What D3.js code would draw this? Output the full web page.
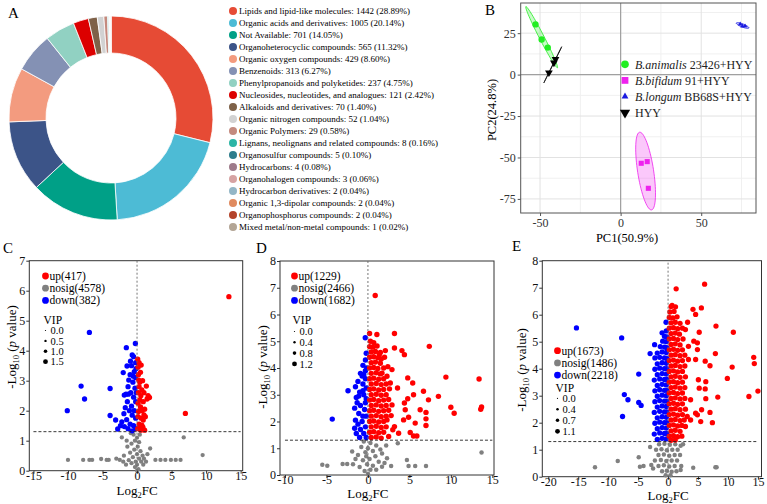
<!DOCTYPE html>
<html>
<head>
<meta charset="utf-8">
<script src="https://cdn.jsdelivr.net/npm/d3@7"></script>
<style>
  body { margin: 0; background: #fff; }
  svg { display: block; font-family: "Liberation Serif", "Times New Roman", serif; }
</style>
</head>
<body>
<div id="chart"></div>
<script>
// ---- panel A : compound classes ----
const classNames = ["Lipids and lipid-like molecules", "Organic acids and derivatives", "Not Available",
  "Organoheterocyclic compounds", "Organic oxygen compounds", "Benzenoids", "Phenylpropanoids and polyketides",
  "Nucleosides, nucleotides, and analogues", "Alkaloids and derivatives", "Organic nitrogen compounds",
  "Organic Polymers", "Lignans, neolignans and related compounds", "Organosulfur compounds", "Hydrocarbons",
  "Organohalogen compounds", "Hydrocarbon derivatives", "Organic 1,3-dipolar compounds",
  "Organophosphorus compounds", "Mixed metal/non-metal compounds"];
const classCounts = [1442, 1005, 701, 565, 429, 313, 237, 121, 70, 52, 29, 8, 5, 4, 3, 2, 2, 2, 1];
const classPct = ["28.89", "20.14", "14.05", "11.32", "8.60", "6.27", "4.75", "2.42", "1.40", "1.04",
  "0.58", "0.16", "0.10", "0.08", "0.06", "0.04", "0.04", "0.04", "0.02"];
const classColors = ["#E64B35", "#4DBBD5", "#00A087", "#3C5488", "#F39B7F", "#8491B4", "#91D1C2", "#DC0000",
  "#7E6148", "#D2D2D2", "#C48A7E", "#2CB5A5", "#2E7D8C", "#9E7B8B", "#D6A3A3", "#93B6C6", "#E08A5E",
  "#B4432A", "#B3A595"];

// ---- panel B : PCA ----
const pcaSpecies = ["B.animalis", "B.bifidum", "B.longum", ""];
const pcaStrain = ["23426+HYY", "91+HYY", "BB68S+HYY", "HYY"];
const pcaAnimalis = [[-52.8, 30.3], [-49, 21.2], [-45.2, 16.3]];
const pcaBifidum = [[12.8, -53.5], [16.5, -52.5], [17.2, -68.6]];
const pcaLongum = [[74.2, 30.4], [75.6, 29.2], [77.2, 29.3]];
const pcaHyy = [[-40.4, 9.3], [-41.4, 7.2], [-44.5, 1.2]];
const pcaXTicks = [-50, 0, 50];
const pcaYTicks = [-75, -50, -25, 0, 25];

// ---- panels C/D/E : volcano plots, points are [log2FC, -log10 p] ----
const pThreshold = 0.05;
const cCounts = [417, 4578, 382];
const cVipTicks = [0.0, 0.5, 1.0, 1.5];
const cXTicks = [-15, -10, -5, 0, 5, 10, 15];
const cYTicks = [0, 1, 2, 3, 4, 5, 6, 7];
const cUp = [[13.3,5.8],[7.0,1.91],[1.35,2.82],[1.8,2.44],[1.45,2.39],[1.6,2.5],[1.2,1.8],[1.1,2.05],[1.0,2.6],
  [0.1,3.72],[0.6,3.52],[0.3,3.6],[0.15,3.45],[0.5,3.28],[0.2,3.2],[0.25,3.02],[0.8,3.0],[0.4,2.95],[0.3,2.8],
  [0.7,2.69],[0.2,2.6],[0.55,2.5],[0.4,2.36],[0.9,2.3],[0.15,2.25],[0.5,2.13],[0.35,2.0],[0.75,2.0],[0.2,1.97],
  [1.0,1.86],[0.15,1.8],[0.6,1.75],[0.9,1.69],[0.3,1.55],[0.7,1.52],[0.85,1.45],[0.4,1.41],[0.1,1.4],[0.55,1.35],[1.1,1.35]];
const cDown = [[-6.9,4.61],[-0.24,4.24],[-1.55,4.1],[-0.7,3.86],[-1.45,3.49],[-2.0,3.27],[-8.1,2.82],[-3.9,2.74],
  [-7.6,2.39],[-10.1,2.0],[-3.9,1.84],[-3.1,1.69],[-2.8,1.39],[-2.2,1.63],[-1.85,2.52],[-1.2,3.02],[-1.84,1.47],
  [-0.5,3.8],[-0.95,3.65],[-0.2,3.6],[-0.8,3.5],[-0.15,3.4],[-0.4,3.3],[-1.0,3.2],[-0.55,3.15],[-0.2,3.1],
  [-0.6,2.95],[-1.3,2.8],[-0.3,2.75],[-0.1,2.6],[-0.9,2.6],[-1.25,2.55],[-1.6,2.55],[-0.5,2.45],[-1.4,2.3],
  [-0.2,2.3],[-0.8,2.15],[-1.7,2.1],[-1.1,2.0],[-0.4,2.0],[-0.7,1.85],[-0.2,1.75],[-1.5,1.7],[-1.0,1.55],
  [-0.5,1.5],[-1.3,1.4],[-0.2,1.4],[-0.7,1.33],[-2.4,1.5],[-1.9,1.9]];
const cNosig = [[6.76,1.11],[9.5,0.52],[-10,0.36],[-7.8,0.36],[-6.9,0.36],[-6.5,0.36],[-5.2,0.39],[-4.4,0.36],
  [-4.1,0.36],[-2.5,0.36],[-2.2,1.11],[2.66,0.36],[3.4,0.36],[4.1,0.36],[4.9,0.36],[5.6,0.36],[6.3,0.36],
  [1.9,0.74],[1.5,0.55],[-1.5,1.0],[-1.4,0.8],[-1.9,0.5],[-3.0,0.4],[-2.0,0.3],
  [-0.5,1.2],[0.4,1.2],[-0.9,1.25],[0,1.1],[-0.3,1.0],[0.3,0.95],[-0.8,0.9],[0.1,0.8],[-0.4,0.7],[0.5,0.65],
  [-1.0,0.6],[0,0.55],[0.8,0.5],[-0.6,0.45],[0.3,0.4],[1.0,0.4],[-1.2,0.35],[-0.2,0.3],[0.6,0.3],[1.3,0.3],
  [-0.8,0.25],[0,0.2],[0.9,0.2],[-1.6,0.2],[-0.3,0.12],[0.2,0.05],[0,0]];

const dCounts = [1229, 2466, 1682];
const dVipTicks = [0.0, 0.4, 0.8, 1.2];
const dXTicks = [-10, -5, 0, 5, 10, 15];
const dYTicks = [0, 1, 2, 3, 4, 5, 6, 7, 8];
const dUp = [[0.88,6.71],[0.2,5.29],[1.08,5.25],[3.2,5.29],[7.4,4.81],[4.1,4.65],[4.4,4.5],[2.1,4.65],[3.2,4.75],
  [1.37,4.5],[1.6,4.34],[4.8,3.63],[5.4,3.44],[9.4,3.66],[13.4,3.59],[3.57,3.25],[6.7,3.13],[5.5,3.0],[4.8,2.85],
  [7.3,2.81],[8.5,2.94],[4.4,2.69],[6.3,2.44],[4.5,2.44],[10,2.53],[10.4,2.31],[13.7,2.54],[13.6,2.46],[7.0,2.34],
  [4.9,2.16],[4.3,2.06],[5.7,1.94],[7.0,1.85],[7.0,2.1],[5.1,1.59],[5.5,1.46],[5.9,1.46],[3.7,1.56],[3.2,1.81],
  [3.0,1.69],[2.5,1.44],[2.3,2.06],[1.7,3.81],[2.3,3.69],[2.7,3.44],[2.9,3.94],
  [0.3,5.0],[0.7,4.95],[0.2,4.8],[0.6,4.78],[1.1,4.82],[0.4,4.6],[0.9,4.62],[1.5,4.58],[0.2,4.4],[0.7,4.42],
  [1.2,4.38],[2.0,4.4],[0.4,4.2],[0.9,4.22],[1.5,4.18],[0.2,4.0],[0.7,4.02],[1.2,3.98],[1.9,4.0],[2.4,4.05],
  [0.4,3.8],[1.0,3.82],[1.5,3.78],[0.2,3.6],[0.7,3.62],[1.3,3.58],[1.9,3.6],[0.4,3.4],[1.0,3.42],[1.6,3.38],
  [2.2,3.4],[0.2,3.2],[0.7,3.22],[1.3,3.18],[1.9,3.2],[2.6,3.22],[0.4,3.0],[1.0,3.02],[1.6,2.98],[2.2,3.0],
  [0.2,2.8],[0.7,2.82],[1.3,2.78],[1.9,2.8],[2.5,2.82],[0.4,2.6],[1.0,2.62],[1.6,2.58],[2.2,2.6],[2.9,2.62],
  [0.2,2.4],[0.7,2.42],[1.3,2.38],[1.9,2.4],[2.5,2.42],[0.4,2.2],[1.0,2.22],[1.6,2.18],[2.2,2.2],[2.8,2.22],
  [0.2,2.0],[0.7,2.02],[1.3,1.98],[1.9,2.0],[0.4,1.8],[1.0,1.82],[1.6,1.78],[2.2,1.8],[0.2,1.6],[0.7,1.62],
  [1.3,1.58],[1.9,1.6],[0.4,1.4],[1.0,1.42],[1.6,1.38]];
const dDown = [[-0.32,5.13],[-2.4,3.15],[-4.3,2.09],[-0.2,4.55],[-0.3,4.3],[-0.6,4.1],[-0.15,4.0],[-0.3,3.9],
  [-0.9,3.8],[-0.7,3.7],[-0.3,3.6],[-1.2,3.5],[-0.6,3.4],[-1.5,3.3],[-0.2,3.25],[-1.0,3.1],[-0.5,3.0],[-1.4,2.9],
  [-0.2,2.85],[-1.3,2.7],[-0.3,2.7],[-0.9,2.6],[-1.6,2.5],[-0.4,2.45],[-1.1,2.3],[-0.2,2.2],[-1.5,2.05],
  [-0.7,2.0],[-1.2,1.9],[-0.3,1.8],[-1.6,1.75],[-0.9,1.7],[-1.4,1.55],[-0.5,1.55],[-0.2,1.4],[-1.0,1.4],
  [-0.6,3.15],[-0.6,2.2],[-1.1,2.95],[-0.5,3.75]];
const dNosig = [[3.6,1.19],[13.7,0.84],[4.7,0.56],[4.9,0.34],[5.7,0.34],[7.0,0.34],[2.8,0.34],[2.3,0.63],
  [-1.9,0.88],[-5.5,0.38],[-4.9,0.35],[-3.05,0.41],[-2.5,0.41],[1.7,0.31],[-1.5,0.6],
  [-0.5,1.25],[0.3,1.2],[1.0,1.1],[-0.8,1.05],[0,1.0],[0.6,0.9],[1.5,0.95],[-0.3,0.85],[-1.2,0.75],[0.9,0.7],
  [0.2,0.6],[-0.6,0.55],[1.3,0.5],[-0.1,0.4],[0.6,0.35],[-1.0,0.3],[2.0,0.45],[0.3,0.2],[-0.4,0.15],[0,0.05],
  [1.0,0.2],[-1.8,0.4],[2.2,1.1],[1.7,0.8],[-0.2,0.7]];

const eCounts = [1673, 1486, 2218];
const eVipTicks = [0.0, 0.4, 0.7, 1.1];
const eXTicks = [-20, -15, -10, -5, 0, 5, 10, 15];
const eYTicks = [0, 1, 2, 3, 4, 5, 6, 7, 8];
const eUp = [[1.35,6.96],[6.1,7.13],[0.67,6.34],[1.24,6.29],[4.16,6.2],[5.56,6.25],[4.6,6.01],[8.0,5.58],
  [10.9,5.35],[5.2,5.35],[3.26,5.72],[2.9,5.45],[4.3,5.02],[4.9,4.96],[3.4,4.83],[4.9,4.71],[3.4,4.34],[4.6,4.34],
  [6.2,4.28],[7.9,4.56],[7.0,4.11],[10.7,4.06],[14.3,4.42],[14.4,4.19],[9.9,3.64],[5.06,3.59],[6.3,3.52],
  [5.2,3.28],[6.2,3.25],[6.3,2.89],[8.3,2.95],[13.5,2.97],[15.0,3.17],[3.76,2.85],[5.6,2.48],[4.6,2.35],
  [4.9,2.29],[7.0,2.38],[7.4,2.0],[5.45,2.04],[3.2,2.23],[3.76,2.1],[2.9,1.86],
  [0.5,6.3],[0.3,6.1],[1.0,6.12],[0.2,5.9],[0.8,5.88],[1.5,5.92],[0.5,5.7],[1.2,5.72],[2.0,5.68],
  [0.2,5.5],[0.9,5.52],[1.6,5.48],[2.4,5.5],[0.5,5.3],[1.2,5.32],[1.9,5.28],[0.2,5.1],[0.9,5.12],[1.6,5.08],
  [2.5,5.1],[0.5,4.9],[1.2,4.92],[2.0,4.88],[0.2,4.7],[0.9,4.72],[1.6,4.68],[2.4,4.7],[0.5,4.5],[1.2,4.52],
  [2.0,4.48],[2.8,4.5],[0.2,4.3],[0.9,4.32],[1.6,4.28],[2.4,4.3],[0.5,4.1],[1.2,4.12],[2.0,4.08],[2.8,4.1],
  [0.2,3.9],[0.9,3.92],[1.6,3.88],[2.4,3.9],[0.5,3.7],[1.2,3.72],[2.0,3.68],[2.9,3.7],[0.2,3.5],[0.9,3.52],
  [1.6,3.48],[2.4,3.5],[0.5,3.3],[1.2,3.32],[2.0,3.28],[2.8,3.3],[0.2,3.1],[0.9,3.12],[1.6,3.08],[2.4,3.1],
  [0.5,2.9],[1.2,2.92],[2.0,2.88],[2.8,2.9],[0.2,2.7],[0.9,2.72],[1.6,2.68],[2.4,2.7],[0.5,2.5],[1.2,2.52],
  [2.0,2.48],[2.9,2.5],[0.2,2.3],[0.9,2.32],[1.6,2.28],[2.4,2.3],[0.5,2.1],[1.2,2.12],[2.0,2.08],[2.7,2.1],
  [0.2,1.9],[0.9,1.92],[1.6,1.88],[2.3,1.9],[0.5,1.7],[1.2,1.72],[2.0,1.68],[0.2,1.5],[0.9,1.52],[1.6,1.48],
  [2.3,1.5],[0.5,1.35],[1.2,1.36]];
const eDown = [[-15.3,5.51],[-7.75,5.14],[-3,4.56],[-2.25,4.89],[-1.0,5.33],[-0.34,5.72],[-4.9,3.8],[-7.3,3.04],
  [-6.7,2.85],[-4.9,2.75],[-4.5,2.64],[-7.6,2.23],
  [-0.3,5.4],[-0.6,5.2],[-0.2,5.18],[-0.3,5.0],[-0.9,5.02],[-0.6,4.8],[-1.3,4.82],[-0.2,4.78],[-0.3,4.6],
  [-1.0,4.62],[-1.8,4.58],[-0.6,4.4],[-1.4,4.42],[-0.2,4.38],[-2.2,4.4],[-0.3,4.2],[-1.0,4.22],[-1.8,4.18],
  [-0.6,4.0],[-1.4,4.02],[-2.2,3.98],[-0.2,4.0],[-0.3,3.8],[-1.0,3.82],[-1.8,3.78],[-0.6,3.6],[-1.4,3.62],
  [-2.3,3.58],[-0.2,3.6],[-0.3,3.4],[-1.0,3.42],[-1.8,3.38],[-0.6,3.2],[-1.4,3.22],[-2.2,3.18],[-0.2,3.2],
  [-0.3,3.0],[-1.0,3.02],[-1.8,2.98],[-0.6,2.8],[-1.4,2.82],[-2.2,2.78],[-0.2,2.8],[-0.3,2.6],[-1.0,2.62],
  [-1.8,2.58],[-0.6,2.4],[-1.4,2.42],[-2.3,2.38],[-0.2,2.4],[-0.3,2.2],[-1.0,2.22],[-1.8,2.18],[-0.6,2.0],
  [-1.4,2.02],[-2.2,1.98],[-0.2,2.0],[-0.3,1.8],[-1.0,1.82],[-1.8,1.78],[-0.6,1.6],[-1.4,1.62],[-2.3,1.58],
  [-0.2,1.6],[-0.3,1.4],[-1.0,1.42],[-1.8,1.38]];
const eNosig = [[-12.2,0.35],[-8.4,0.58],[-4.9,0.72],[-4.7,0.37],[-4.1,0.4],[-2.8,0.43],[2.1,0.25],[4.2,0.33],
  [7.9,0.35],[8.1,0.35],[-3.0,1.1],[2.5,1.2],[-2.5,0.3],
  [-1.5,1.2],[-0.6,1.22],[0.3,1.18],[1.2,1.2],[2.1,1.15],[-2.0,1.0],[-1.1,1.02],[-0.2,0.98],[0.7,1.0],[1.6,1.0],
  [-1.6,0.8],[-0.7,0.82],[0.2,0.78],[1.1,0.8],[2.0,0.8],[-2.2,0.6],[-1.2,0.62],[-0.3,0.58],[0.6,0.6],[1.5,0.6],
  [-1.6,0.4],[-0.7,0.42],[0.2,0.38],[1.1,0.4],[2.2,0.4],[-1.0,0.2],[-0.2,0.22],[0.6,0.18],[1.4,0.2],
  [-0.4,0.05],[0.4,0.05]];

// typical VIP of the plotted dots
const cVip = [1.7, 1.3, 1.7];
const dVip = [1.4, 1.1, 1.4];
const eVip = [1.25, 1.0, 1.25];

const statusNames = ["up", "nosig", "down"];
const statusColors = ["#FF0000", "#808080", "#0000FF"];

const W = 767, H = 504;
const svg = d3.select("#chart").append("svg").attr("width", W).attr("height", H)
  .attr("font-family", "Liberation Serif, serif");

function panelLetter(t, x, y) {
  svg.append("text").attr("x", x).attr("y", y).attr("font-size", 15).text(t);
}

// ================= A: donut =================
panelLetter("A", 8, 18);
const gA = svg.append("g").attr("transform", "translate(111,118)");
const pie = d3.pie().sort(null).value(d => d);
const arc = d3.arc().innerRadius(65).outerRadius(102);
gA.selectAll("path").data(pie(classCounts)).enter().append("path")
  .attr("d", arc)
  .attr("fill", (d, i) => classColors[i])
  .attr("stroke", "#fff").attr("stroke-width", 0.8);

const legA = svg.append("g");
classNames.forEach((n, i) => {
  const y = 11 + i * 12;
  legA.append("circle").attr("cx", 233).attr("cy", y).attr("r", 4).attr("fill", classColors[i]);
  legA.append("text").attr("x", 239).attr("y", y + 3.2).attr("font-size", 9)
    .text(n + ": " + classCounts[i] + " (" + classPct[i] + "%)");
});

// ================= B: PCA =================
panelLetter("B", 485, 15);
const bx = d3.scaleLinear().domain([-62, 84]).range([520.7, 756]);
const by = d3.scaleLinear().domain([-83.5, 43.2]).range([213, 3]);
const gB = svg.append("g");
// minor + major grid
[-25, 25, 75].forEach(v => gB.append("line").attr("x1", bx(v)).attr("x2", bx(v)).attr("y1", by(-83.5)).attr("y2", by(43.2)).attr("stroke", "#F0F0F0"));
[-62.5, -37.5, -12.5, 12.5, 37.5].forEach(v => gB.append("line").attr("y1", by(v)).attr("y2", by(v)).attr("x1", bx(-62)).attr("x2", bx(84)).attr("stroke", "#F0F0F0"));
pcaXTicks.forEach(v => gB.append("line").attr("x1", bx(v)).attr("x2", bx(v)).attr("y1", by(-83.5)).attr("y2", by(43.2)).attr("stroke", "#E2E2E2"));
pcaYTicks.forEach(v => gB.append("line").attr("y1", by(v)).attr("y2", by(v)).attr("x1", bx(-62)).attr("x2", bx(84)).attr("stroke", "#E2E2E2"));
gB.append("line").attr("x1", bx(0)).attr("x2", bx(0)).attr("y1", by(-83.5)).attr("y2", by(43.2)).attr("stroke", "#A0A0A0").attr("stroke-width", 1.2);
gB.append("line").attr("y1", by(0)).attr("y2", by(0)).attr("x1", bx(-62)).attr("x2", bx(84)).attr("stroke", "#A0A0A0").attr("stroke-width", 1.2);

// confidence ellipses from covariance of each group
function ellipsePath(pts, k) {
  const mx = d3.mean(pts, p => p[0]), my = d3.mean(pts, p => p[1]);
  const n = pts.length;
  const sxx = d3.sum(pts, p => (p[0] - mx) ** 2) / (n - 1);
  const syy = d3.sum(pts, p => (p[1] - my) ** 2) / (n - 1);
  const sxy = d3.sum(pts, p => (p[0] - mx) * (p[1] - my)) / (n - 1);
  const tr = sxx + syy, det = sxx * syy - sxy * sxy;
  const disc = Math.sqrt(Math.max(tr * tr / 4 - det, 0));
  const l1 = tr / 2 + disc, l2 = Math.max(tr / 2 - disc, 0);
  const ang = Math.atan2(l1 - sxx, sxy);
  const a = k * Math.sqrt(l1), b = k * Math.sqrt(l2);
  const ring = d3.range(0, 73).map(i => {
    const t = i / 72 * 2 * Math.PI;
    const u = a * Math.cos(t), v = b * Math.sin(t);
    return [mx + u * Math.cos(ang) - v * Math.sin(ang), my + u * Math.sin(ang) + v * Math.cos(ang)];
  });
  return d3.line().x(p => bx(p[0])).y(p => by(p[1]))(ring);
}
const pcaSets = [pcaAnimalis, pcaBifidum, pcaLongum, pcaHyy];
const pcaFill = ["#22EE22", "#EE22EE", "#1A1AE0", "#000000"];
const pcaSym = [d3.symbolCircle, d3.symbolSquare, d3.symbolTriangle, d3.symbolTriangle];
const pcaRot = [0, 0, 0, 180];
const pcaSize = [32, 26, 9, 26];
pcaSets.forEach((pts, i) => {
  gB.append("path").attr("d", ellipsePath(pts, 2.6))
    .attr("fill", pcaFill[i]).attr("fill-opacity", 0.25)
    .attr("stroke", pcaFill[i]).attr("stroke-width", 0.8);
});
pcaSets.forEach((pts, i) => {
  gB.selectAll(null).data(pts).enter().append("path")
    .attr("d", d3.symbol().type(pcaSym[i]).size(pcaSize[i]))
    .attr("transform", d => "translate(" + bx(d[0]) + "," + by(d[1]) + ") rotate(" + pcaRot[i] + ")")
    .attr("fill", pcaFill[i]);
});
gB.append("rect").attr("x", bx(-62)).attr("y", by(43.2)).attr("width", bx(84) - bx(-62)).attr("height", by(-83.5) - by(43.2))
  .attr("fill", "none").attr("stroke", "#555").attr("stroke-width", 1);
const axBx = gB.append("g").attr("transform", "translate(0,213)")
  .call(d3.axisBottom(bx).tickValues(pcaXTicks).tickSize(3).tickPadding(2).tickFormat(d => String(d)));
const axBy = gB.append("g").attr("transform", "translate(520.7,0)")
  .call(d3.axisLeft(by).tickValues(pcaYTicks).tickSize(3).tickPadding(2).tickFormat(d => String(d)));
[axBx, axBy].forEach(a => {
  a.select(".domain").remove();
  a.selectAll("line").attr("stroke", "#555");
  a.selectAll("text").attr("font-size", 12).attr("fill", "#333").attr("font-family", "Liberation Serif, serif");
});
svg.append("text").attr("x", 627).attr("y", 242).attr("text-anchor", "middle").attr("font-size", 12.5).text("PC1(50.9%)");
svg.append("text").attr("transform", "translate(496,110) rotate(-90)").attr("text-anchor", "middle").attr("font-size", 12.5).text("PC2(24.8%)");

const legB = svg.append("g");
pcaSpecies.forEach((s, i) => {
  const y = 64.3 + i * 16.1;
  legB.append("path").attr("d", d3.symbol().type(pcaSym[i]).size(i === 2 ? 20 : 46))
    .attr("transform", "translate(625," + y + ") rotate(" + pcaRot[i] + ")")
    .attr("fill", pcaFill[i]);
  const t = legB.append("text").attr("x", 635).attr("y", y + 4.2).attr("font-size", 12).attr("fill", "#222");
  if (s) {
    t.append("tspan").attr("font-style", "italic").text(s);
    t.append("tspan").text(" " + pcaStrain[i]);
  } else {
    t.text(pcaStrain[i]);
  }
});

// ================= C/D/E: volcano =================
function drawVolcano(o) {
  const g = svg.append("g");
  const x = d3.scaleLinear().domain(o.xDomain).range([o.left, o.right]);
  const y = d3.scaleLinear().domain(o.yDomain).range([o.bottom, o.top]);
  const vipMax = o.vipTicks[o.vipTicks.length - 1];
  const r = d3.scaleLinear().domain([0, vipMax]).range([0.6, 2.4]);
  const thr = -Math.log10(pThreshold);

  // frame
  g.append("rect").attr("x", o.left).attr("y", o.top).attr("width", o.right - o.left).attr("height", o.bottom - o.top)
    .attr("fill", "none").attr("stroke", "#333").attr("stroke-width", 1);

  // points: nosig, down, up
  [[o.nosig, 1], [o.down, 2], [o.up, 0]].forEach(([pts, s]) => {
    g.selectAll(null).data(pts).enter().append("circle")
      .attr("cx", d => x(d[0])).attr("cy", d => y(d[1]))
      .attr("r", r(o.vip[s])).attr("fill", statusColors[s]);
  });

  // guide lines
  g.append("line").attr("x1", x(0)).attr("x2", x(0)).attr("y1", y(0)).attr("y2", o.top)
    .attr("stroke", "#666").attr("stroke-width", 0.9).attr("stroke-dasharray", "2,2");
  g.append("line").attr("x1", x(o.xTicks[0])).attr("x2", x(o.xTicks[o.xTicks.length - 1]))
    .attr("y1", y(thr)).attr("y2", y(thr))
    .attr("stroke", "#222").attr("stroke-width", 0.9).attr("stroke-dasharray", "3,2");

  // axes
  const ax = g.append("g").attr("transform", "translate(0," + o.bottom + ")")
    .call(d3.axisBottom(x).tickValues(o.xTicks).tickSize(3).tickPadding(1).tickFormat(d => String(d)));
  const ay = g.append("g").attr("transform", "translate(" + o.left + ",0)")
    .call(d3.axisLeft(y).tickValues(o.yTicks).tickSize(3).tickPadding(1).tickFormat(d => String(d)));
  [ax, ay].forEach(a => {
    a.select(".domain").remove();
    a.selectAll("line").attr("stroke", "#333");
    a.selectAll("text").attr("font-size", 12).attr("fill", "#111").attr("font-family", "Liberation Serif, serif");
  });
  ax.selectAll("text").attr("dy", "0.42em");

  // axis titles
  const yl = g.append("text").attr("transform", "translate(" + o.yLabel[0] + "," + o.yLabel[1] + ") rotate(-90)")
    .attr("text-anchor", "middle").attr("font-size", 13);
  yl.append("tspan").text("-Log");
  yl.append("tspan").attr("font-size", 8.5).attr("dy", 3).text("10");
  yl.append("tspan").attr("dy", -3).text(" (");
  yl.append("tspan").attr("font-style", "italic").text("p");
  yl.append("tspan").text(" value)");
  const xl = g.append("text").attr("x", x(0)).attr("y", o.xLabelY).attr("text-anchor", "middle").attr("font-size", 13);
  xl.append("tspan").text("Log");
  xl.append("tspan").attr("font-size", 8.5).attr("dy", 3).text("2");
  xl.append("tspan").attr("dy", -3).text("FC");

  // legend
  statusNames.forEach((n, i) => {
    const yy = o.legY + i * 12.2;
    g.append("circle").attr("cx", o.legX).attr("cy", yy).attr("r", 3.4).attr("fill", statusColors[i]);
    g.append("text").attr("x", o.legX + 4).attr("y", yy + 4).attr("font-size", 11.5).text(n + "(" + o.counts[i] + ")");
  });
  g.append("text").attr("x", o.legX - 2).attr("y", o.vipTitleY + 4).attr("font-size", 11.5).text("VIP");
  o.vipTicks.forEach((v, i) => {
    const yy = o.vipY + i * o.vipStep;
    g.append("circle").attr("cx", o.legX).attr("cy", yy).attr("r", r(v)).attr("fill", "#000");
    g.append("text").attr("x", o.legX + 5).attr("y", yy + 3.6).attr("font-size", 10.5).text(v.toFixed(1));
  });
}

panelLetter("C", 3, 253);
drawVolcano({ up: cUp, down: cDown, nosig: cNosig, counts: cCounts, vip: cVip, vipTicks: cVipTicks,
  xTicks: cXTicks, yTicks: cYTicks, xDomain: [-15.6, 15.3], yDomain: [0, 7],
  left: 29.3, right: 242.7, top: 260.7, bottom: 470.7,
  yLabel: [16, 347], xLabelY: 495, legX: 45.5, legY: 276, vipTitleY: 319.5, vipY: 330.5, vipStep: 10.4 });

panelLetter("D", 256, 253);
drawVolcano({ up: dUp, down: dDown, nosig: dNosig, counts: dCounts, vip: dVip, vipTicks: dVipTicks,
  xTicks: dXTicks, yTicks: dYTicks, xDomain: [-10.6, 15.2], yDomain: [0, 8],
  left: 280, right: 494, top: 261, bottom: 475,
  yLabel: [267, 367], xLabelY: 498, legX: 294.5, legY: 276, vipTitleY: 320, vipY: 331.5, vipStep: 10.8 });

panelLetter("E", 512, 251);
drawVolcano({ up: eUp, down: eDown, nosig: eNosig, counts: eCounts, vip: eVip, vipTicks: eVipTicks,
  xTicks: eXTicks, yTicks: eYTicks, xDomain: [-21, 15.6], yDomain: [0, 8],
  left: 542.3, right: 761.5, top: 260.7, bottom: 476.7,
  yLabel: [526, 370], xLabelY: 499.5, legX: 557.5, legY: 350.7, vipTitleY: 388.3, vipY: 398.3, vipStep: 11 });
</script>
</body>
</html>
